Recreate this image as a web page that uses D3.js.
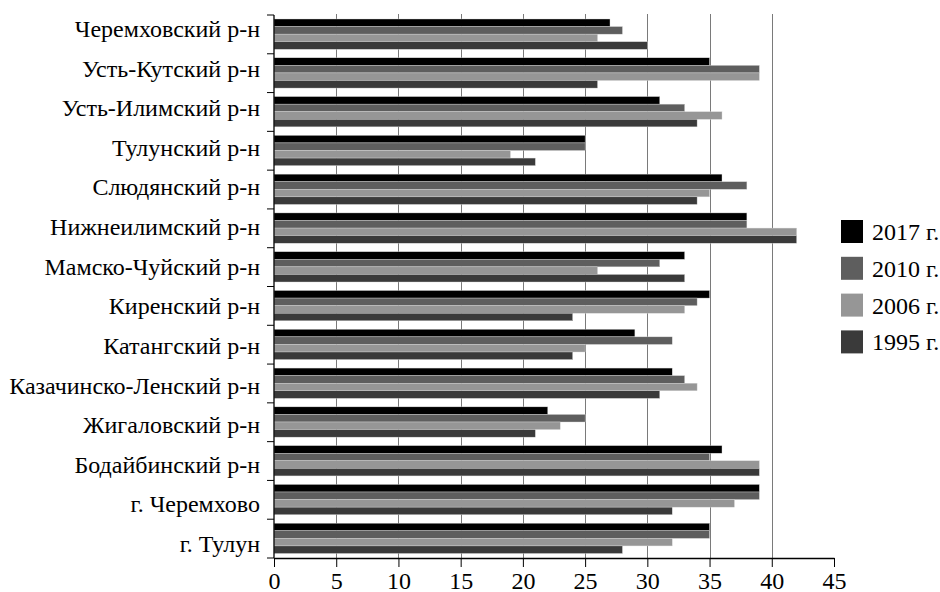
<!DOCTYPE html>
<html>
<head>
<meta charset="utf-8">
<script src="https://cdn.jsdelivr.net/npm/d3@7"></script>
</head>
<body style="margin:0">
<svg id="chart" width="940" height="592" font-family="Times New Roman"></svg>
<script>
const categories = [
  "Черемховский р-н", "Усть-Кутский р-н", "Усть-Илимский р-н", "Тулунский р-н",
  "Слюдянский р-н", "Нижнеилимский р-н", "Мамско-Чуйский р-н", "Киренский р-н",
  "Катангский р-н", "Казачинско-Ленский р-н", "Жигаловский р-н", "Бодайбинский р-н",
  "г. Черемхово", "г. Тулун"
];
const seriesNames = ["2017 г.", "2010 г.", "2006 г.", "1995 г."];
const values2017 = [27, 35, 31, 25, 36, 38, 33, 35, 29, 32, 22, 36, 39, 35];
const values2010 = [28, 39, 33, 25, 38, 38, 31, 34, 32, 33, 25, 35, 39, 35];
const values2006 = [26, 39, 36, 19, 35, 42, 26, 33, 25, 34, 23, 39, 37, 32];
const values1995 = [30, 26, 34, 21, 34, 42, 33, 24, 24, 31, 21, 39, 32, 28];
const seriesColors = ["#000000", "#5e5e5e", "#969696", "#3a3a3a"];
const xTicks = [0, 5, 10, 15, 20, 25, 30, 35, 40, 45];

(function () {
const FONT = "Times New Roman";
const FS = 24;
const seriesValues = [values2017, values2010, values2006, values1995];
const rows = categories.map((c, i) => ({
  cat: c,
  vals: seriesNames.map((s, k) => ({ key: s, k: k, v: seriesValues[k][i] }))
}));

const svg = d3.select("#chart");
const mLeft = 274, mRight = 834, mTop = 15, mBottom = 558;

const x = d3.scaleLinear().domain([0, 45]).range([mLeft, mRight]);
const y = d3.scaleBand().domain(categories).range([mTop, mBottom]).padding(0);
const y1 = d3.scaleBand().domain(seriesNames).range([4, y.bandwidth() - 4.5]).padding(0);
const yLabel = d3.scalePoint().domain(categories).range([37, 552]);

// gridlines
svg.append("g").selectAll("line")
  .data(xTicks.filter(t => t > 0 && t < 45))
  .join("line")
  .attr("x1", d => Math.round(x(d)) + 0.5).attr("x2", d => Math.round(x(d)) + 0.5)
  .attr("y1", mTop - 1).attr("y2", mBottom)
  .attr("stroke", "#7a7a7a").attr("stroke-width", 1);

// bars
const groups = svg.append("g").selectAll("g")
  .data(rows).join("g")
  .attr("transform", d => `translate(0,${y(d.cat)})`);
groups.selectAll("rect")
  .data(d => d.vals).join("rect")
  .attr("x", x(0))
  .attr("y", d => y1(d.key))
  .attr("width", d => x(d.v) - x(0))
  .attr("height", y1.bandwidth())
  .attr("fill", d => seriesColors[d.k])
  .attr("stroke", "#d8d8d8").attr("stroke-width", 0.4);

// x axis
const xAxis = d3.axisBottom(x).tickValues(xTicks).tickSize(9).tickPadding(5).tickSizeOuter(0);
const gx = svg.append("g").attr("transform", `translate(0,${mBottom})`).call(xAxis);
gx.attr("font-family", FONT).attr("font-size", FS);
gx.select(".domain").attr("stroke", "#000").attr("stroke-width", 1.3);
gx.selectAll(".tick line").attr("stroke", "#000");
gx.selectAll(".tick text").attr("font-family", FONT).attr("font-size", FS).attr("fill", "#000");

// y axis (ticks at category boundaries)
const gy = svg.append("g").attr("transform", `translate(${mLeft},0)`)
  .attr("font-family", FONT);
gy.append("line").attr("x1", 0).attr("x2", 0).attr("y1", mTop).attr("y2", mBottom)
  .attr("stroke", "#000").attr("stroke-width", 1.3);
const boundaries = categories.map(c => y(c)).concat([y.range()[1]]);
gy.selectAll("line.tk").data(boundaries).join("line").attr("class", "tk")
  .attr("x1", -7).attr("x2", 0).attr("y1", d => d).attr("y2", d => d)
  .attr("stroke", "#000").attr("stroke-width", 1);
gy.selectAll("text").data(categories).join("text")
  .attr("x", -14)
  .attr("y", d => yLabel(d))
  .attr("text-anchor", "end")
  .attr("font-family", FONT).attr("font-size", FS)
  .attr("fill", "#000")
  .text(d => d);

// legend
const lg = svg.append("g").attr("transform", "translate(841,220)").attr("font-family", FONT);
const li = lg.selectAll("g").data(seriesNames).join("g")
  .attr("transform", (d, i) => `translate(0,${i * 36.8})`);
li.append("rect").attr("width", 22).attr("height", 23).attr("fill", (d, i) => seriesColors[i]);
li.append("text").attr("x", 31).attr("y", 11.5).attr("dy", "0.35em")
  .attr("font-family", FONT).attr("font-size", FS)
  .attr("fill", "#000").text(d => d);
})();
</script>
</body>
</html>
